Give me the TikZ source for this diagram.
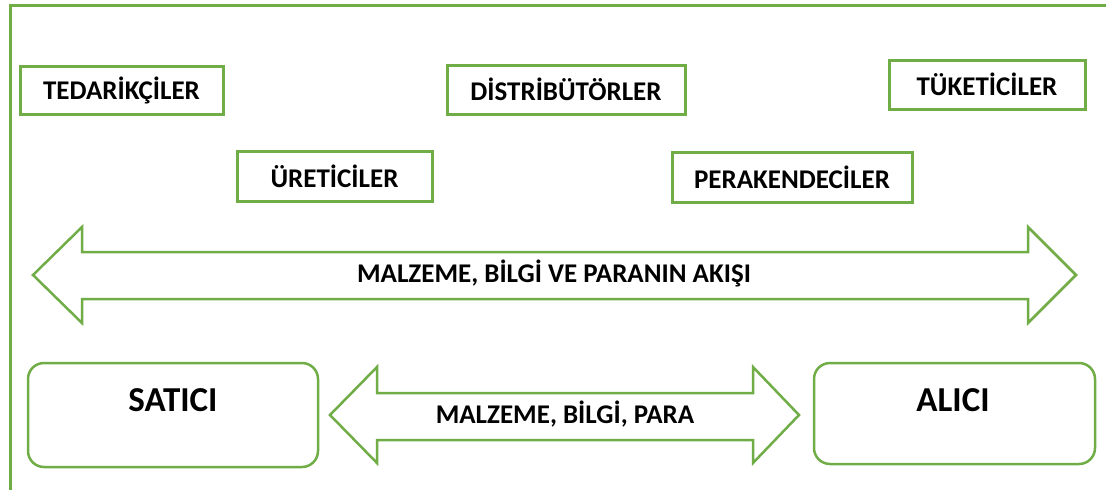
\documentclass[tikz,border=0pt]{standalone}
\usepackage{fontspec}
\setmainfont{Carlito}
\usepackage{xcolor}
\usepackage{tikz}
\definecolor{leafgreen}{HTML}{70AD47}
\tikzset{ actor_box/.style = {rectangle, draw=leafgreen, line width=3pt, inner sep=0pt, font=\fontsize{27}{32}\selectfont\bfseries} }
\tikzset{ party_box/.style = {rectangle, rounded corners=16pt, draw=leafgreen, line width=2.5pt, inner sep=0pt} }
\tikzset{ flow_arrow/.style = {draw=leafgreen, line width=2.5pt, line join=miter, fill=white} }
\tikzset{ flow_text/.style = {font=\fontsize{27}{32}\selectfont\bfseries, inner sep=0pt} }

\begin{document}
\begin{tikzpicture}[x=1pt, y=-1pt]
    \useasboundingbox (0,0) rectangle (1106,490);
    \draw[leafgreen, line width=3pt] (10,490) -- (10,5) -- (1106,5);
    % the chain
    \node[actor_box, minimum width=203pt, minimum height=48pt] (Ted) at (121.5,90) {TEDARİKÇİLER};
    \node[actor_box, minimum width=195pt, minimum height=50pt] (Ure) at (334.5,176) {ÜRETİCİLER};
    \node[actor_box, minimum width=238pt, minimum height=49pt] (Dis) at (566,89.5) {DİSTRİBÜTÖRLER};
    \node[actor_box, minimum width=240pt, minimum height=50pt] (Per) at (792,177) {PERAKENDECİLER};
    \node[actor_box, minimum width=196pt, minimum height=49pt] (Tuk) at (987,84.5) {TÜKETİCİLER};
    % big flow arrow
    \draw[flow_arrow] (33,275) -- (82,227) -- (82,252) -- (1028,252) -- (1028,227)
        -- (1076,275) -- (1028,323) -- (1028,299) -- (82,299) -- (82,323) -- cycle;
    \node[flow_text] (Flow) at (554,273) {MALZEME, BİLGİ VE PARANIN AKIŞI};
    % seller and buyer
    \node[party_box, minimum width=290pt, minimum height=104pt] (Sat) at (173,415) {};
    \node[party_box, minimum width=281pt, minimum height=101pt] (Ali) at (954.5,413.5) {};
    \node[font=\fontsize{35}{40}\selectfont\bfseries] (SatText) at (173,400) {SATICI};
    \node[font=\fontsize{35}{40}\selectfont\bfseries] (AliText) at (953,400) {ALICI};
    \draw[flow_arrow] (330,415) -- (377,367) -- (377,393) -- (753,393) -- (753,367)
        -- (799,415) -- (753,463) -- (753,440) -- (377,440) -- (377,463) -- cycle;
    \node[flow_text] (Trade) at (565,414) {MALZEME, BİLGİ, PARA};
\end{tikzpicture}
\end{document}
